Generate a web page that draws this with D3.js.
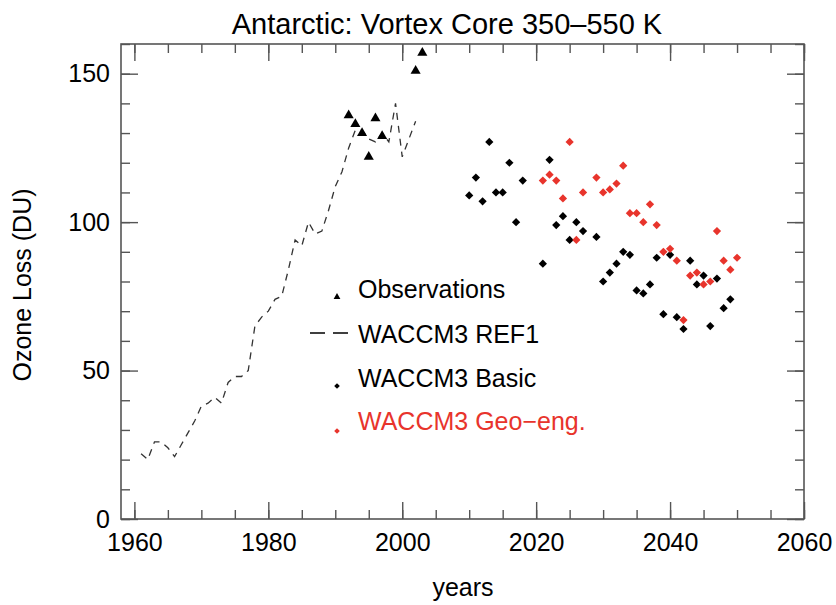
<!DOCTYPE html>
<html>
<head>
<meta charset="utf-8">
<script src="https://cdn.jsdelivr.net/npm/d3@7"></script>
<style>
  body { margin: 0; background: #fff; }
  text { font-family: "Liberation Sans", Arial, Helvetica, sans-serif; }
</style>
</head>
<body>
<div id="chart"></div>
<script>
// observations (triangles)
const obsYears = [1992, 1993, 1994, 1995, 1996, 1997, 2002, 2003];
const obsLoss  = [136, 133, 130, 122, 135, 129, 151, 157];

// WACCM3 REF1 (dashed line)
const refYears = [1961, 1962, 1963, 1964, 1965, 1966, 1967, 1968, 1969, 1970,
                  1971, 1972, 1973, 1974, 1975, 1976, 1977, 1978, 1979, 1980,
                  1981, 1982, 1983, 1984, 1985, 1986, 1987, 1988, 1989, 1990,
                  1991, 1992, 1993, 1994, 1995, 1996, 1997, 1998, 1999, 2000,
                  2001, 2002];
const refLoss  = [22, 20, 26, 26, 24, 21, 25, 29, 33, 38,
                  39, 41, 39, 46, 48, 48, 50, 65, 68, 70,
                  74, 75, 84, 94, 92, 100, 96, 97, 104, 112,
                  117, 125, 131, 131, 128, 127, 130, 127, 140, 122,
                  128, 134];

// WACCM3 Basic (black diamonds)
const basicYears = [2010, 2011, 2012, 2013, 2014, 2015, 2016, 2017, 2018, 2021,
                    2022, 2023, 2024, 2025, 2026, 2027, 2029, 2030, 2031, 2032,
                    2033, 2034, 2035, 2036, 2037, 2038, 2039, 2040, 2041, 2042,
                    2043, 2044, 2045, 2046, 2047, 2048, 2049];
const basicLoss  = [109, 115, 107, 127, 110, 110, 120, 100, 114, 86,
                    121, 99, 102, 94, 100, 97, 95, 80, 83, 86,
                    90, 89, 77, 76, 79, 88, 69, 89, 68, 64,
                    87, 79, 82, 65, 81, 71, 74];

// WACCM3 Geo-eng. (red diamonds)
const geoYears = [2021, 2022, 2023, 2024, 2025, 2026, 2027, 2029, 2030, 2031,
                  2032, 2033, 2034, 2035, 2036, 2037, 2038, 2039, 2040, 2041,
                  2042, 2043, 2044, 2045, 2046, 2047, 2048, 2049, 2050];
const geoLoss  = [114, 116, 114, 108, 127, 94, 110, 115, 110, 111,
                  113, 119, 103, 103, 100, 106, 99, 90, 91, 87,
                  67, 82, 83, 79, 80, 97, 87, 84, 88];

const xTicks = [1960, 1980, 2000, 2020, 2040, 2060];
const yTicks = [0, 50, 100, 150];

const legendNames = ["Observations", "WACCM3 REF1", "WACCM3 Basic", "WACCM3 Geo\u2212eng."];

const W = 836, H = 605;
const box = {left: 121, right: 804, top: 44, bottom: 519};
const red = "#e8342c", axisCol = "#555";

const svg = d3.select("#chart").append("svg")
    .attr("width", W).attr("height", H);

const x = d3.scaleLinear().domain([1958, 2060]).range([box.left, box.right]);
const y = d3.scaleLinear().domain([0, 160]).range([box.bottom, box.top]);

const minorX = d3.range(1960, 2061, 5);
const minorY = d3.range(0, 161, 10);

function styleAxis(g) {
    g.select(".domain").remove();
    g.selectAll("line").attr("stroke", axisCol).attr("stroke-width", 1.4);
    g.selectAll("text").attr("font-size", 25).attr("fill", "#000")
        .attr("font-family", "Liberation Sans, Arial, sans-serif");
}

// ticks on all four sides, pointing in
const axes = [
    [d3.axisBottom(x), box.bottom, "x", true],
    [d3.axisTop(x), box.top, "x", false],
    [d3.axisLeft(y), box.left, "y", true],
    [d3.axisRight(y), box.right, "y", false]
];
axes.forEach(([ax, pos, dim, labels]) => {
    const major = dim == "x" ? xTicks : yTicks;
    const minor = dim == "x" ? minorX : minorY;
    const tr = dim == "x" ? `translate(0,${pos})` : `translate(${pos},0)`;
    svg.append("g").attr("transform", tr)
        .call(ax.tickValues(minor).tickSizeInner(-9).tickSizeOuter(0).tickFormat(""))
        .call(styleAxis);
    svg.append("g").attr("transform", tr)
        .call(ax.tickValues(major).tickSizeInner(-17).tickSizeOuter(0)
            .tickPadding(dim == "x" ? 14 : 11)
            .tickFormat(labels ? d3.format("d") : ""))
        .call(styleAxis);
});

svg.append("rect")
    .attr("x", box.left).attr("y", box.top)
    .attr("width", box.right - box.left).attr("height", box.bottom - box.top)
    .attr("fill", "none").attr("stroke", axisCol).attr("stroke-width", 1.6);

// titles
svg.append("text").attr("x", 447).attr("y", 34).attr("text-anchor", "middle")
    .attr("font-size", 29).text("Antarctic: Vortex Core 350\u2013550 K");
svg.append("text").attr("x", 463).attr("y", 596).attr("text-anchor", "middle")
    .attr("font-size", 25).text("years");
svg.append("text").attr("transform", "translate(31,285) rotate(-90)")
    .attr("text-anchor", "middle").attr("font-size", 25).text("Ozone Loss (DU)");

// REF1 dashed line
const refData = refYears.map((d, i) => [d, refLoss[i]]);
svg.append("path").datum(refData)
    .attr("d", d3.line().x(d => x(d[0])).y(d => y(d[1])))
    .attr("fill", "none").attr("stroke", "#333").attr("stroke-width", 1.3)
    .attr("stroke-dasharray", "7,6");

const tri = d3.symbol().type(d3.symbolTriangle);
// IDL diamond = square turned 45 degrees
const dia = d3.symbol().type(d3.symbolSquare);

svg.append("g").selectAll("path").data(obsYears).join("path")
    .attr("transform", (d, i) => `translate(${x(d)},${y(obsLoss[i])})`)
    .attr("d", tri.size(44)()).attr("fill", "#000");

svg.append("g").selectAll("path").data(basicYears).join("path")
    .attr("transform", (d, i) => `translate(${x(d)},${y(basicLoss[i])}) rotate(45)`)
    .attr("d", dia.size(34)()).attr("fill", "#000");

svg.append("g").selectAll("path").data(geoYears).join("path")
    .attr("transform", (d, i) => `translate(${x(d)},${y(geoLoss[i])}) rotate(45)`)
    .attr("d", dia.size(34)()).attr("fill", red);

// legend
const leg = svg.append("g");
const rowsY = [298, 343, 387, 430];
leg.selectAll("text").data(legendNames).join("text")
    .attr("x", 358).attr("y", (d, i) => rowsY[i])
    .attr("font-size", 25)
    .attr("fill", (d, i) => i == 3 ? red : "#000")
    .text(d => d);
leg.append("path").attr("transform", "translate(337,297)")
    .attr("d", tri.size(20)()).attr("fill", "#000");
leg.append("line").attr("x1", 310).attr("x2", 348).attr("y1", 333).attr("y2", 333)
    .attr("stroke", "#000").attr("stroke-width", 1.5).attr("stroke-dasharray", "15,8");
leg.append("path").attr("transform", "translate(337,386) rotate(45)")
    .attr("d", dia.size(16)()).attr("fill", "#000");
leg.append("path").attr("transform", "translate(337,431) rotate(45)")
    .attr("d", dia.size(16)()).attr("fill", red);
</script>
</body>
</html>
